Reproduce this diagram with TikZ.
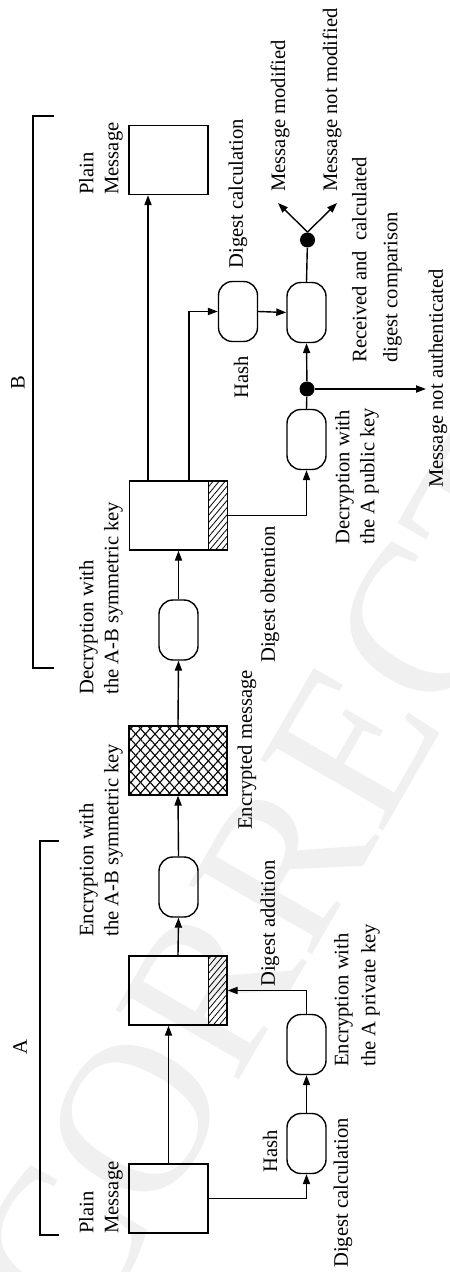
\documentclass[tikz,border=0pt]{standalone}
\usepackage{fontspec}
\setmainfont{Liberation Serif}
\usetikzlibrary{arrows.meta,patterns.meta,positioning,calc}

\begin{document}
\begin{tikzpicture}[x=0.5pt, y=-0.5pt,
    box/.style={draw, line width=0.7pt, minimum width=39.5pt, minimum height=34.5pt, inner sep=0pt},
    wide/.style={box, minimum width=49pt},
    digest/.style={draw, line width=0.7pt, minimum width=9.5pt, minimum height=34.5pt, inner sep=0pt,
      pattern={Lines[angle=50, distance=2.3pt, line width=0.4pt]}},
    crypt/.style={pattern={Lines[angle=48, distance=3.6pt, line width=0.55pt]},
      postaction={pattern={Lines[angle=-48, distance=3.6pt, line width=0.55pt]}}},
    op/.style={draw, line width=0.7pt, rounded corners=7pt, minimum width=19.5pt, minimum height=30pt, inner sep=0pt},
    knot/.style={circle, fill, inner sep=0pt, minimum size=7.5pt},
    lbl/.style={rotate=90, anchor=west, align=left, inner sep=0pt, font=\fontsize{10.3}{12.5}\selectfont},
    link/.style={line width=0.7pt},
    arr/.style={link, -{Triangle[length=5pt, width=3.6pt]}},
    bracket/.style={line width=1pt}
  ]
    \useasboundingbox (0,0) rectangle (449,1272);

    % watermark
    \begin{scope}
      \clip (0,0) rectangle (449,1272);
      \node[rotate=60, text=black!6, font=\fontsize{108}{108}\selectfont] (mark) at (268,890) {UNCORRECTED};
    \end{scope}

    % side A
    \node[box] (plainA) at (168.5,1198.5) {};
    \node[wide] (msgA) at (178,990.5) {};
    \node[digest, anchor=east] (dgA) at (msgA.east) {};
    \node[op] (hashA) at (306.5,1143.5) {};
    \node[op] (encPriv) at (306.5,1044.5) {};
    \node[op] (encAB) at (178.5,887) {};

    % channel
    \node[wide, crypt] (encMsg) at (178,760.5) {};

    % side B
    \node[op] (decAB) at (178.5,630) {};
    \node[wide] (msgB) at (178.5,515.5) {};
    \node[digest, anchor=east] (dgB) at (msgB.east) {};
    \node[op] (decPub) at (306.5,439.5) {};
    \node[knot] (chk) at (307,389) {};
    \node[op] (cmp) at (306.5,312.5) {};
    \node[op] (hashB) at (238,311.5) {};
    \node[knot] (res) at (307.5,240) {};
    \node[box] (plainB) at (168.5,160) {};
    \coordinate (mod) at (278,203);
    \coordinate (notmod) at (337,203);
    \coordinate (noauth) at (426,389);

    % brackets
    \draw[bracket] (59,841) -- (40,841) -- (40,1235) -- (59,1235);
    \draw[bracket] (54,116) -- (33,116) -- (33,668) -- (54,668);
    \node[lbl, anchor=center] (sideA) at (20,1047) {A};
    \node[lbl, anchor=center] (sideB) at (18,383) {B};

    % flow A
    \draw[arr] (plainA.north) -- (plainA.north |- msgA.south);
    \draw[arr] (plainA.east) -| (hashA.south);
    \draw[arr] (hashA.north) -- (encPriv.south);
    \draw[arr] (encPriv.north) |- (dgA.east);
    \draw[arr] (msgA.north) -- (encAB.south);
    \draw[arr] (encAB.north) -- (encMsg.south);

    % flow B
    \draw[arr] (encMsg.north) -- (decAB.south);
    \draw[arr] (decAB.north) -- (msgB.south);
    \draw[arr] ([xshift=-15.25pt]msgB.north) -- ([xshift=-15.25pt]msgB.north |- plainB.south);
    \draw[arr] ([xshift=5.25pt]msgB.north) |- (hashB.west);
    \draw[arr] (dgB.east) -| (decPub.south);
    \draw[link] (decPub.north) -- (chk);
    \draw[arr] (chk) -- (cmp.south);
    \draw[arr] (chk) -- (noauth);
    \draw[arr] (hashB.east) -- (cmp.west);
    \draw[link] (cmp.north) -- (res);
    \draw[arr] (res.north) -- (mod);
    \draw[arr] (res.north) -- (notmod);

    % labels
    \node[lbl] (tPlainA) at (101,1234) {Plain\\Message};
    \node[lbl] (tHashA) at (270,1173) {Hash};
    \node[lbl] (tDigCalcA) at (343,1268) {Digest calculation};
    \node[lbl] (tEncPriv) at (357,1067) {Encryption with\\[1pt]the A private key};
    \node[lbl] (tDigAdd) at (270,987) {Digest addition};
    \node[lbl] (tEncAB) at (101,937) {Encryption with\\the A-B symmetric key};
    \node[lbl] (tEncMsg) at (247,830) {Encrypted message};
    \node[lbl] (tDecAB) at (101,695) {Decryption with\\the A-B symmetric key};
    \node[lbl] (tDigObt) at (270,663) {Digest obtention};
    \node[lbl] (tDecPub) at (357,545) {Decryption with\\the A public key};
    \node[lbl] (tHashB) at (241,399) {Hash};
    \node[lbl] (tCmp) at (377,363) {Received and\ \ calculated\\[3pt]digest comparison};
    \node[lbl] (tNoAuth) at (438,488) {Message not authenticated};
    \node[lbl] (tDigCalcB) at (238,269) {Digest calculation};
    \node[lbl] (tMod) at (280,192) {Message modified};
    \node[lbl] (tNotMod) at (332,192) {Message not modified};
    \node[lbl] (tPlainB) at (101,195) {Plain\\Message};
  \end{tikzpicture}
\end{document}
